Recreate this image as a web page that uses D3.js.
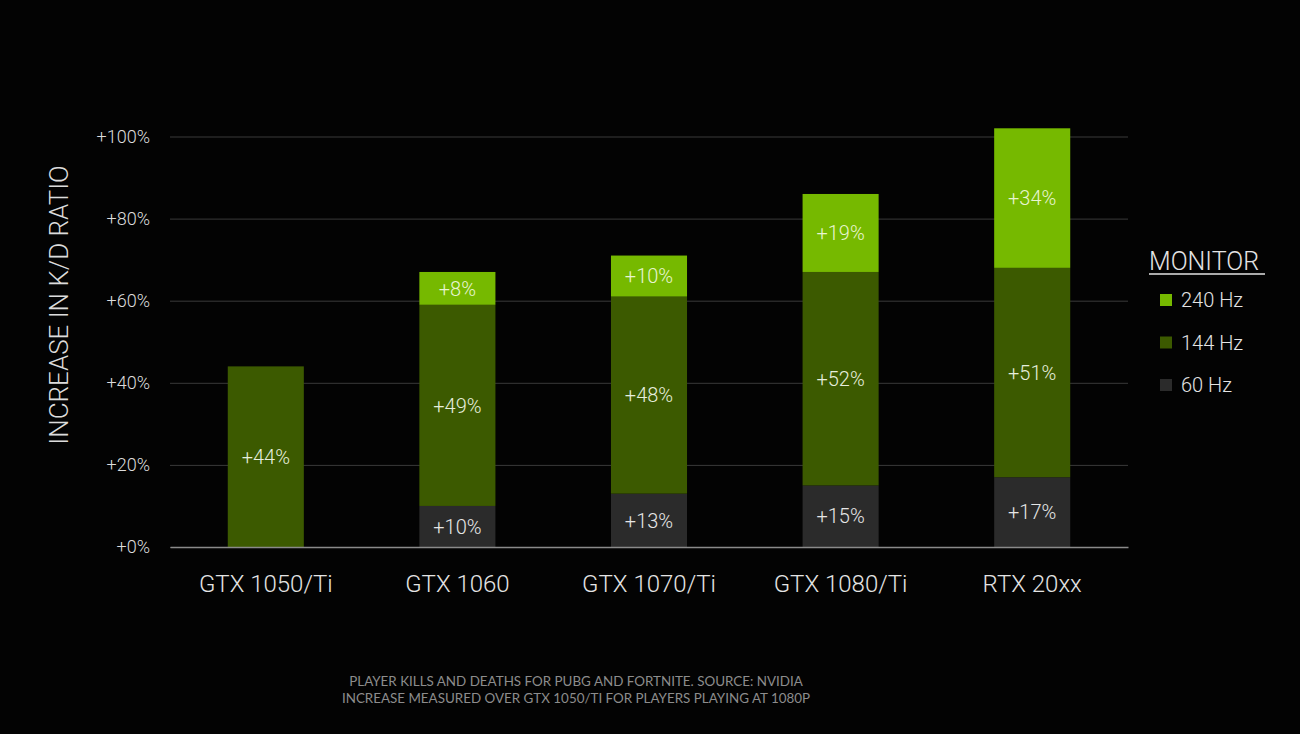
<!DOCTYPE html>
<html>
<head>
<meta charset="utf-8">
<script src="https://cdn.jsdelivr.net/npm/d3@7"></script>
<style>
html,body{margin:0;padding:0;background:#030303;}
svg{display:block;}
</style>
</head>
<body>
<svg id="chart" width="1300" height="734"></svg>
<script>
const categories = ["GTX 1050/Ti", "GTX 1060", "GTX 1070/Ti", "GTX 1080/Ti", "RTX 20xx"];
const seriesNames = ["60 Hz", "144 Hz", "240 Hz"];
const hz60  = [0, 10, 13, 15, 17];
const hz144 = [44, 49, 48, 52, 51];
const hz240 = [0, 8, 10, 19, 34];
const yTicks = [0, 20, 40, 60, 80, 100];
const legendTitle = "MONITOR";
const yTitle = "INCREASE IN K/D RATIO";
const footnotes = ["PLAYER KILLS AND DEATHS FOR PUBG AND FORTNITE. SOURCE: NVIDIA",
                   "INCREASE MEASURED OVER GTX 1050/TI FOR PLAYERS PLAYING AT 1080P"];

const colors = {"60 Hz": "#2b2b2b", "144 Hz": "#3c5a00", "240 Hz": "#76b900"};
const labelColors = {"60 Hz": "#e6e6e6", "144 Hz": "#e6eedd", "240 Hz": "#e8f5d0"};
const font = "Roboto, 'DejaVu Sans', sans-serif";

const svg = d3.select("#chart");
svg.append("rect").attr("width",1300).attr("height",734).attr("fill","#030303");

const x = d3.scaleBand().domain(categories).range([170, 1128]).paddingInner(0.603).paddingOuter(0.3015);
const y = d3.scaleLinear().domain([0, 100]).range([547, 136.5]);

// gridlines
const yAxis = d3.axisLeft(y).tickValues(yTicks).tickSize(-(1128-170)).tickFormat(d => "+" + d + "%");
const gy = svg.append("g").attr("transform", "translate(170,0)").call(yAxis);
gy.select(".domain").remove();
gy.selectAll(".tick line").attr("stroke", "#3a3a3a").attr("stroke-width", 1);
gy.selectAll(".tick text").attr("x", -20).attr("fill", "#dcdcdc")
  .style("font-family", font).style("font-weight", 300).style("font-size", "18px");

// stacked data
const rows = categories.map((c, i) => ({cat: c, "60 Hz": hz60[i], "144 Hz": hz144[i], "240 Hz": hz240[i]}));
const stack = d3.stack().keys(seriesNames)(rows);

const layers = svg.append("g").selectAll("g").data(stack).join("g").attr("fill", d => colors[d.key]);
layers.selectAll("rect").data(d => d.map(p => ({p, key: d.key}))).join("rect")
  .filter(d => d.p[1] - d.p[0] > 0)
  .attr("x", d => x(d.p.data.cat))
  .attr("width", x.bandwidth())
  .attr("y", d => y(d.p[1]))
  .attr("height", d => y(d.p[0]) - y(d.p[1]));

// labels
const labels = svg.append("g");
stack.forEach(layer => {
  layer.forEach(p => {
    const v = p[1] - p[0];
    if (v <= 0) return;
    labels.append("text")
      .attr("x", x(p.data.cat) + x.bandwidth()/2)
      .attr("y", (y(p[0]) + y(p[1]))/2)
      .attr("dy", "0.36em")
      .attr("text-anchor", "middle")
      .attr("fill", labelColors[layer.key])
      .style("font-family", font).style("font-weight", 300).style("font-size", "20px")
      .text("+" + v + "%");
  });
});

// x axis baseline
const xAxis = d3.axisBottom(x).tickSize(0).tickPadding(28);
const gx = svg.append("g").attr("transform", "translate(0,547)").call(xAxis);
gx.select(".domain").attr("stroke", "#8a8a8a").attr("stroke-width", 1.5);
gx.selectAll(".tick text").attr("fill", "#e4e4e4")
  .style("font-family", font).style("font-weight", 300).style("font-size", "24px");

// y title
svg.append("text")
  .attr("transform", "translate(68,305) rotate(-90)")
  .attr("text-anchor", "middle")
  .attr("fill", "#dcdcdc")
  .style("font-family", font).style("font-weight", 300).style("font-size", "26px")
  .text(yTitle);

// legend
const lg = svg.append("g");
lg.append("text").attr("x", 1149).attr("y", 270)
  .attr("fill", "#e4e4e4")
  .style("font-family", font).style("font-weight", 300).style("font-size", "25px")
  .text(legendTitle);
lg.append("line").attr("x1", 1149).attr("x2", 1265).attr("y1", 274).attr("y2", 274)
  .attr("stroke", "#e4e4e4").attr("stroke-width", 1.5);
const legendItems = ["240 Hz", "144 Hz", "60 Hz"];
legendItems.forEach((k, i) => {
  const cy = 300 + i * 42.5;
  lg.append("rect").attr("x", 1160).attr("y", cy - 6).attr("width", 12).attr("height", 12).attr("fill", colors[k]);
  lg.append("text").attr("x", 1181).attr("y", cy).attr("dy", "0.36em")
    .attr("fill", "#e4e4e4")
    .style("font-family", font).style("font-weight", 300).style("font-size", "20px")
    .text(k);
});

// footnotes
footnotes.forEach((t, i) => {
  svg.append("text").attr("x", 576).attr("y", 686 + i * 17)
    .attr("text-anchor", "middle").attr("fill", "#8c8c8c")
    .style("font-family", "Lato, 'Open Sans', sans-serif").style("font-size", "13.4px")
    .text(t);
});
</script>
</body>
</html>
